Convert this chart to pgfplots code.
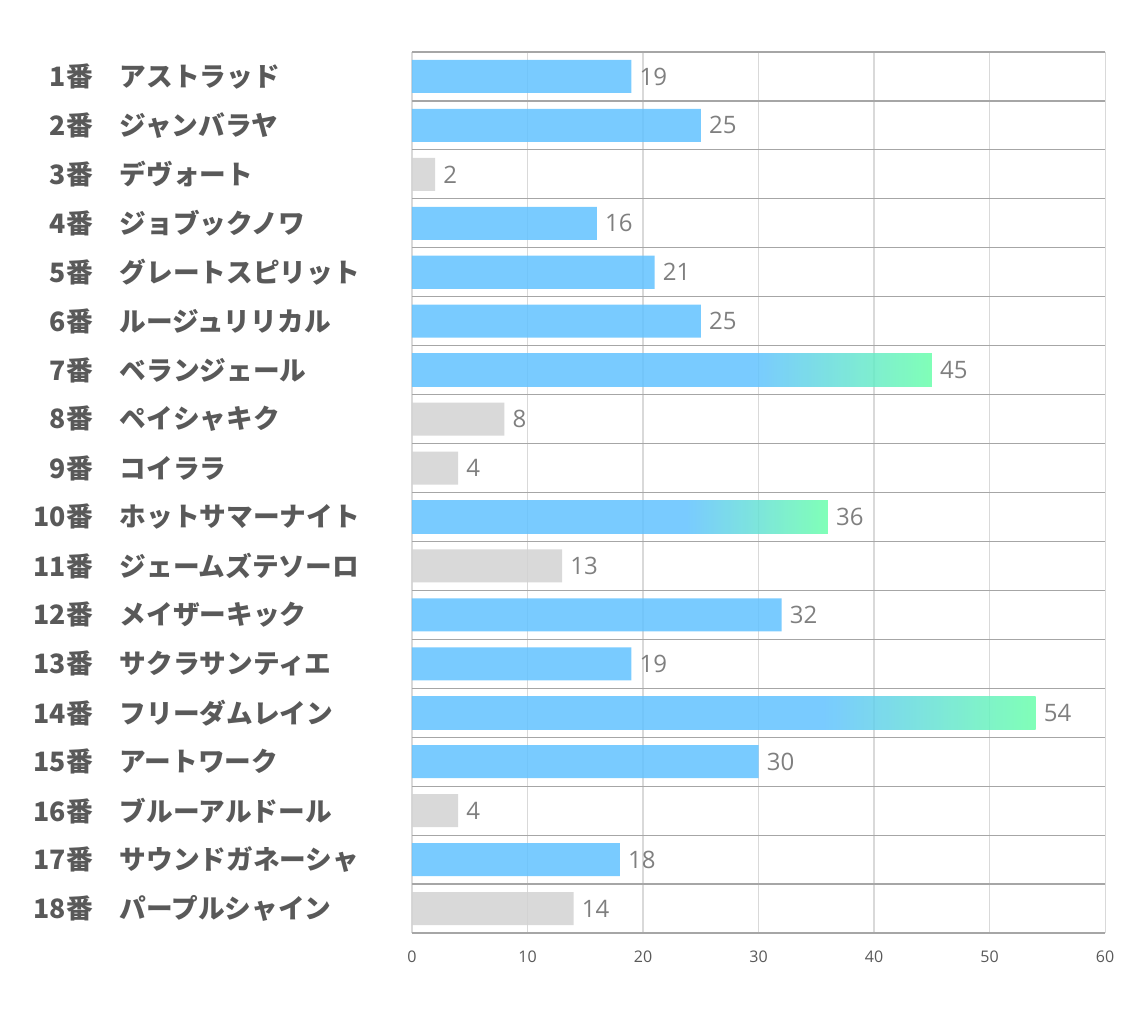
\documentclass[border=0pt]{standalone}
\usepackage{fontspec}
\setmainfont{Open Sans}
\newfontfamily\jp{Noto Sans CJK JP}
\usepackage{pgfplots}
\pgfplotsset{compat=1.18}

\definecolor{barblue}{RGB}{98,194,255}
\definecolor{bargreen}{RGB}{106,255,171}
\definecolor{bargray}{RGB}{210,210,210}
\definecolor{labgray}{RGB}{89,89,89}
\definecolor{valgray}{RGB}{127,127,127}
\definecolor{gridv}{RGB}{217,217,217}
\definecolor{gridh}{RGB}{166,166,166}

\pgfdeclarehorizontalshading{bluegreen}{100bp}{color(0bp)=(barblue); color(58bp)=(barblue); color(75bp)=(bargreen); color(100bp)=(bargreen)}

\newcommand\lab[2]{\makebox[280.5pt][l]{\makebox[41.25pt][r]{#1番}\hspace{20.25pt}#2}}

\pgfplotsset{gradbar/.style={draw=none, shading=bluegreen, fill opacity=0.85, text opacity=1}}

\begin{document}
\begin{tikzpicture}
\begin{axis}[
  xbar, bar width=0.675, bar shift=0pt,
  scale only axis, width=519.75pt, height=660.75pt,
  xmin=0, xmax=60, ymin=0.5, ymax=18.5, y dir=reverse,
  xtick={0,10,...,60}, ytick={1,...,18},
  minor ytick={0.5,1.5,...,18.5},
  xmajorgrids, yminorgrids,
  major grid style={draw=gridv, line width=0.8pt},
  minor grid style={draw=gridh, line width=0.9pt},
  axis line style={draw=none},
  major tick length=0pt, minor tick length=0pt,
  yticklabels={
    \lab{1}{アストラッド},\lab{2}{ジャンバラヤ},\lab{3}{デヴォート},
    \lab{4}{ジョブックノワ},\lab{5}{グレートスピリット},\lab{6}{ルージュリリカル},
    \lab{7}{ベランジェール},\lab{8}{ペイシャキク},\lab{9}{コイララ},
    \lab{10}{ホットサマーナイト},\lab{11}{ジェームズテソーロ},\lab{12}{メイザーキック},
    \lab{13}{サクラサンティエ},\lab{14}{フリーダムレイン},\lab{15}{アートワーク},
    \lab{16}{ブルーアルドール},\lab{17}{サウンドガネーシャ},\lab{18}{パープルシャイン}},
  yticklabel style={anchor=east, inner sep=0pt, font=\jp\bfseries\fontsize{20}{24}\selectfont, text=labgray},
  xticklabel style={font=\fontsize{12}{14}\selectfont, text=labgray, yshift=-10pt},
  /pgf/number format/assume math mode=true,
  nodes near coords,
  nodes near coords style={anchor=west, font=\fontsize{18}{20}\selectfont, text=valgray, inner sep=6pt},
  clip=false,
]
% blue bars
\addplot[draw=none, fill=barblue, fill opacity=0.85, text opacity=1] coordinates {
  (19,1) (25,2) (16,4) (21,5) (25,6) (32,12) (19,13) (30,15) (18,17)};
% gray bars
\addplot[draw=none, fill=bargray, fill opacity=0.85, text opacity=1] coordinates {
  (2,3) (8,8) (4,9) (13,11) (4,16) (14,18)};
% gradient bars, one plot each so the shading fits each bar
\addplot[gradbar] coordinates {(45,7)};
\addplot[gradbar] coordinates {(36,10)};
\addplot[gradbar] coordinates {(54,14)};
\path (axis description cs:-0.5945,1.059) (axis description cs:1.0418,-0.0988);
\end{axis}
\end{tikzpicture}
\end{document}
